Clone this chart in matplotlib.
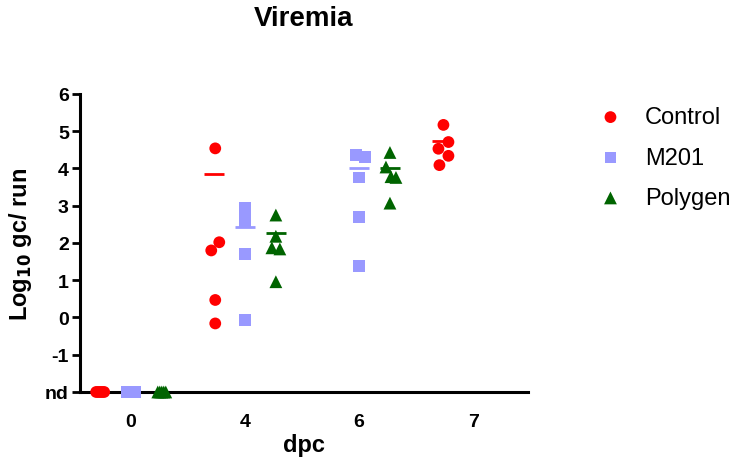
import numpy as np
import matplotlib
matplotlib.use("Agg")
import matplotlib.pyplot as plt

plt.rcParams["font.family"] = ["Liberation Sans", "DejaVu Sans"]

# ======================
# DATA (log10 gc/run, nd = -2)
# ======================
days = ["0", "4", "6", "7"]
nd = -2

control = {
    "0": [nd, nd, nd, nd, nd],
    "4": [4.54, 2.02, 1.80, 0.47, -0.16],
    "7": [5.17, 4.71, 4.53, 4.34, 4.09],
}
m201 = {
    "0": [nd, nd, nd, nd, nd],
    "4": [2.95, 2.78, 2.60, 1.71, -0.07],
    "6": [4.36, 4.31, 3.76, 2.69, 1.38],
}
polygen = {
    "0": [nd, nd, nd, nd, nd],
    "4": [2.75, 2.18, 1.87, 1.84, 0.96],
    "6": [4.43, 4.04, 3.78, 3.76, 3.07],
}

# mean lines
control_mean = {"4": 3.84, "7": 4.73}
m201_mean = {"4": 2.43, "6": 4.00}
polygen_mean = {"4": 2.27, "6": 4.00}

# ======================
# STYLE
# ======================
series = [
    ("Control", control, control_mean, "#ff0000", "o", -0.27),
    ("M201", m201, m201_mean, "#9999ff", "s", 0.0),
    ("Polygen", polygen, polygen_mean, "#006400", "^", 0.27),
]
# horizontal scatter (px) like Prism does for overlapping points
px = 1 / 114
jitter = {
    ("Control", "0"): [-4, -2, 0, 2, 4],
    ("Control", "4"): [1, 5, -3, 1, 1],
    ("Control", "7"): [1, 6, -4, 6, -3],
    ("M201", "0"): [-4, -2, 0, 2, 4],
    ("M201", "4"): [0, 0, 0, 0, 0],
    ("M201", "6"): [-3, 6, 0, 0, 0],
    ("Polygen", "0"): [-4, -2, 0, 2, 4],
    ("Polygen", "4"): [0, 0, -4, 4, 0],
    ("Polygen", "6"): [0, -4, 1, 6, 0],
}

fig = plt.figure(figsize=(7.31, 4.60), dpi=100)
ax = fig.add_axes([0.1094, 0.1457, 0.6129, 0.6478])

for name, data, means, color, marker, off in series:
    first = True
    size = 85 if marker == "^" else 72
    for day, vals in data.items():
        x0 = days.index(day) + off
        xs = x0 + np.array(jitter[(name, day)]) * px
        ax.scatter(xs, vals, s=size, marker=marker, color=color, edgecolors="none",
                   clip_on=False, zorder=4, label=name if first else None)
        first = False
    for day, m in means.items():
        x0 = days.index(day) + off
        ax.hlines(m, x0 - 0.088, x0 + 0.088, color=color, linewidth=2, zorder=5)

ax.set_xlim(-0.447, 3.48)
ax.set_ylim(-2, 6)
ax.set_xticks(range(len(days)))
ax.set_xticklabels(days)
ax.set_yticks(range(-2, 7))
ax.set_yticklabels(["nd"] + [str(v) for v in range(-1, 7)])

for s in ["top", "right"]:
    ax.spines[s].set_visible(False)
for s in ["left", "bottom"]:
    ax.spines[s].set_linewidth(2.2)
ax.tick_params(axis="y", length=6, width=2, labelsize=14, pad=2)
ax.tick_params(axis="x", length=0, labelsize=14, pad=15)
for lab in ax.get_xticklabels() + ax.get_yticklabels():
    lab.set_fontweight("bold")

ax.set_title("Viremia", fontsize=20, fontweight="bold", pad=50)
ax.set_xlabel("dpc", fontsize=17, fontweight="bold", labelpad=2)
ax.set_ylabel("Log$_{\\mathbf{10}}$ gc/ run", fontsize=17, fontweight="bold", labelpad=8)

leg = ax.legend(loc="upper left", bbox_to_anchor=(1.105, 1.03), frameon=False,
                fontsize=17, handlelength=1.2, handletextpad=0.85,
                labelspacing=0.78, markerscale=1.0)

plt.savefig("out.png", dpi=100)
